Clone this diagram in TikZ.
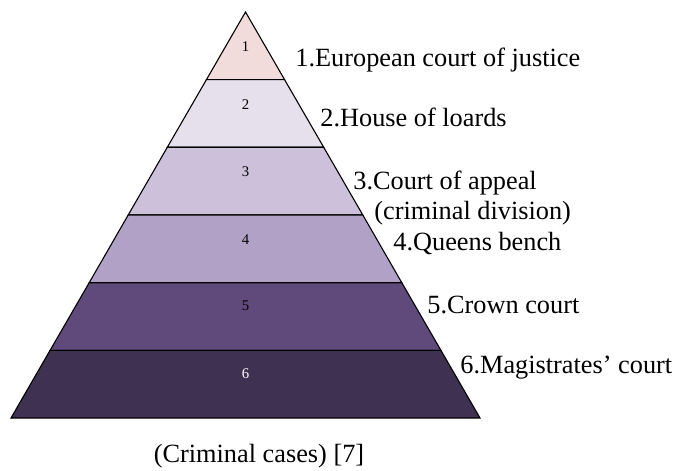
\documentclass[tikz,border=0pt]{standalone}
\usepackage{fontspec}
\setmainfont{Liberation Serif}
\usepackage{tikz}

\definecolor{layA}{RGB}{242,220,219}
\definecolor{layB}{RGB}{229,224,236}
\definecolor{layC}{RGB}{204,192,218}
\definecolor{layD}{RGB}{178,161,199}
\definecolor{layE}{RGB}{96,74,123}
\definecolor{layF}{RGB}{63,49,81}

\tikzset{
  layer/.style={draw=black,line width=0.55pt,line join=miter},
  levelnum/.style={font=\fontsize{7.4}{8}\selectfont,inner sep=0pt},
  courtname/.style={font=\fontsize{13.15}{15}\selectfont,anchor=base west,inner sep=0pt},
}

\begin{document}
\begin{tikzpicture}[x=0.5pt,y=-0.5pt]
        \useasboundingbox (0,0) rectangle (678,470);
        %
        \draw [layer,fill=layA] (245.5,12) -- (284.6,79.7) -- (206.4,79.7) -- cycle;
        \draw [layer,fill=layB] (206.4,79.7) -- (284.6,79.7) -- (323.7,147.3) -- (167.3,147.3) -- cycle;
        \draw [layer,fill=layC] (167.3,147.3) -- (323.7,147.3) -- (362.8,215) -- (128.2,215) -- cycle;
        \draw [layer,fill=layD] (128.2,215) -- (362.8,215) -- (401.8,282.7) -- (89.2,282.7) -- cycle;
        \draw [layer,fill=layE] (89.2,282.7) -- (401.8,282.7) -- (440.9,350.3) -- (50.1,350.3) -- cycle;
        \draw [layer,fill=layF] (50.1,350.3) -- (440.9,350.3) -- (480,418) -- (11,418) -- cycle;
        %
        \node [levelnum] (n1) at (245.5,47) {1};
        \node [levelnum] (n2) at (245.5,105) {2};
        \node [levelnum] (n3) at (245.5,172) {3};
        \node [levelnum] (n4) at (245.5,240) {4};
        \node [levelnum] (n5) at (245.5,306) {5};
        \node [levelnum,text=white] (n6) at (245.5,374) {6};
        %
        \node [courtname] (ecj) at (295,66.7) {1.European court of justice};
        \node [courtname] (lords) at (320,127) {2.House of loards};
        \node [courtname] (appeal) at (353,190) {3.Court of appeal};
        \node [courtname] (division) at (374,219) {(criminal division)};
        \node [courtname] (bench) at (393,250) {4.Queens bench};
        \node [courtname] (crown) at (427,313) {5.Crown court};
        \node [courtname] (magis) at (460,373) {6.Magistrates’ court};
        %
        \node [courtname,anchor=base] (caption) at (259,462) {(Criminal cases) [7]};
      \end{tikzpicture}
\end{document}
